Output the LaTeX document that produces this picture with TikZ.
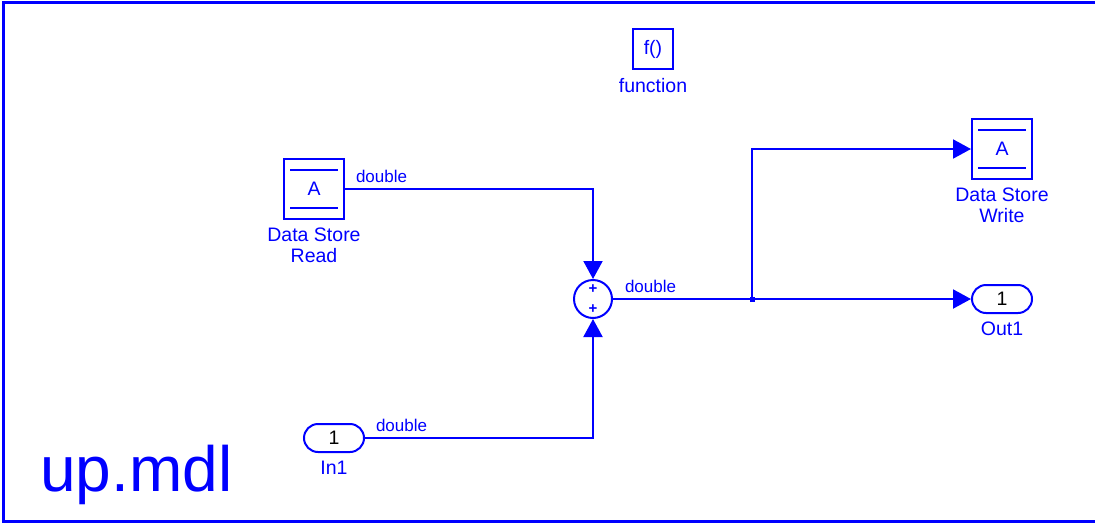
\documentclass[tikz,border=0pt]{standalone}
\usepackage{fontspec}
\setmainfont{Liberation Sans}
\usetikzlibrary{arrows.meta,positioning}
\definecolor{simblue}{RGB}{0,0,255}

\begin{document}
\begin{tikzpicture}[
    x=1pt, y=-1pt,
    node distance=8pt,
    block/.style={rectangle, draw=simblue, line width=2pt, minimum width=60pt, minimum height=60pt, inner sep=0pt, font=\fontsize{19.5}{21}\selectfont, text=simblue},
    port/.style={rectangle, rounded corners=14pt, draw=simblue, line width=2pt, minimum width=60pt, minimum height=28pt, inner sep=0pt, font=\fontsize{19.5}{21}\selectfont, text=black},
    sumop/.style={circle, draw=simblue, line width=2pt, minimum size=38pt, inner sep=0pt, align=center, font=\fontsize{15}{20}\selectfont\bfseries, text=simblue},
    blockname/.style={inner sep=0pt, align=center, font=\fontsize{19.5}{21}\selectfont, text=simblue},
    sig/.style={draw=simblue, line width=2pt, -{Triangle[length=18pt, width=19pt]}},
    lbl/.style={inner sep=1pt, font=\fontsize{17}{20}\selectfont, text=simblue, anchor=south west, pos=0, yshift=4pt}
]
    % Frame and model name
    \useasboundingbox (0,0) rectangle (1095,525);
    \begin{scope}
        \clip (0,0) rectangle (1095,525);
        \draw[simblue, line width=3pt] (3,2) rectangle (1200,521);
    \end{scope}
    \node[text=simblue, font=\fontsize{64}{70}\selectfont, anchor=base west, inner sep=0pt] (title) at (40,491) {up.mdl};

    % Blocks
    \node[block, minimum width=40pt, minimum height=40pt] (func) at (653,49) {f()};
    \node[block] (dsread)  at (314,189) {A};
    \node[block] (dswrite) at (1002,149) {A};
    \node[sumop] (sum)     at (593,299) {+\\+};
    \node[port]  (in1)     at (334,438) {1};
    \node[port]  (out1)    at (1002,299) {1};
    \coordinate (branch) at (752,299);

    % Data store bars
    \foreach \b in {dsread,dswrite} {
        \draw[simblue, line width=2pt] ([xshift=7pt,yshift=-12pt]\b.north west) -- ([xshift=-7pt,yshift=-12pt]\b.north east);
        \draw[simblue, line width=2pt] ([xshift=7pt,yshift=12pt]\b.south west) -- ([xshift=-7pt,yshift=12pt]\b.south east);
    }

    % Block names
    \node[blockname, below=of func]    (funcname)    {function};
    \node[blockname, below=of dsread]  (dsreadname)  {Data Store\\Read};
    \node[blockname, below=of dswrite] (dswritename) {Data Store\\Write};
    \node[blockname, below=of in1]     (in1name)     {In1};
    \node[blockname, below=of out1]    (out1name)    {Out1};

    % Signals
    \draw[sig] (dsread.east) -| node[lbl, xshift=9pt] (sigread) {double} (sum.north);
    \draw[sig] (in1.east) -| node[lbl, xshift=9pt] (sigin) {double} (sum.south);
    \draw[sig] (sum.east) -- node[lbl, xshift=10pt] (sigsum) {double} (out1.west);
    \draw[sig] (branch) |- (dswrite.west);
    \fill[simblue] ([shift={(-2.5pt,-2.5pt)}]branch) rectangle ([shift={(2.5pt,2.5pt)}]branch);

\end{tikzpicture}
\end{document}
